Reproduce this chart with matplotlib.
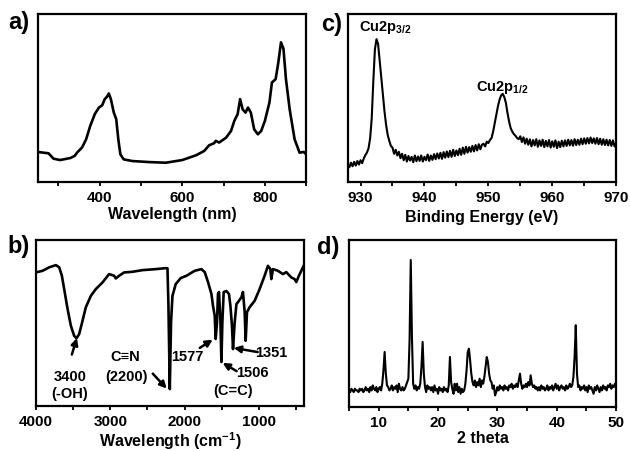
import numpy as np
import matplotlib
matplotlib.use('Agg')
import matplotlib.pyplot as plt

plt.rcParams['font.family'] = ['Liberation Sans', 'DejaVu Sans']
plt.rcParams['font.weight'] = 'bold'
plt.rcParams['mathtext.fontset'] = 'custom'
plt.rcParams['mathtext.rm'] = 'Liberation Sans:bold'
plt.rcParams['mathtext.bf'] = 'Liberation Sans:bold'
plt.rcParams['mathtext.default'] = 'bf'

# a) UV-vis-NIR absorption
uv_nm = [250, 276, 282, 288, 304, 329, 339, 345, 357, 367, 377, 388, 398, 406, 412,
         418, 422, 427, 434, 440, 445, 450, 458, 479, 519, 560, 600, 633, 653, 665,
         677, 681, 689, 706, 718, 726, 734, 740, 746, 753, 759, 766, 774, 783, 791,
         800, 811, 817, 826, 832, 839, 845, 851, 860, 872, 884, 894, 900]
uv_abs = [0.179, 0.171, 0.155, 0.139, 0.131, 0.143, 0.155, 0.175, 0.205, 0.254, 0.334,
          0.404, 0.443, 0.457, 0.493, 0.509, 0.527, 0.493, 0.414, 0.374, 0.254, 0.165,
          0.135, 0.125, 0.119, 0.115, 0.131, 0.159, 0.185, 0.219, 0.231, 0.245, 0.235,
          0.264, 0.304, 0.364, 0.404, 0.493, 0.433, 0.413, 0.443, 0.413, 0.314, 0.284,
          0.304, 0.364, 0.473, 0.592, 0.612, 0.702, 0.831, 0.793, 0.612, 0.433, 0.254,
          0.175, 0.179, 0.165]

# b) FTIR
ir_wn = [4000, 3910, 3821, 3731, 3687, 3651, 3620, 3574, 3530, 3486, 3454, 3418, 3373,
         3329, 3261, 3194, 3104, 3016, 2948, 2926, 2881, 2814, 2701, 2567, 2388, 2254,
         2231, 2218, 2200, 2183, 2164, 2120, 2053, 1976, 1865, 1775, 1730, 1686, 1640,
         1619, 1596, 1583, 1565, 1552, 1538, 1519, 1506, 1493, 1475, 1439, 1404, 1385,
         1364, 1350, 1327, 1304, 1270, 1237, 1216, 1193, 1180, 1162, 1126, 1059, 992,
         925, 880, 848, 835, 813, 746, 679, 634, 566, 522, 499, 464, 432, 400]
ir_t = [80.5, 81.5, 83.6, 84.9, 83.6, 78.5, 70.5, 58.4, 48.4, 42.3, 40.8, 43.4, 51.4,
        59.5, 66.4, 70.5, 74.5, 79.5, 78.5, 76.9, 78.5, 80.5, 80.9, 81.9, 82.5, 83.1,
        83.0, 60.4, 10.2, 50.6, 66.4, 73.5, 77.1, 78.5, 81.5, 82.5, 80.7, 74.7, 67.5,
        60.4, 54.4, 40.4, 50.6, 67.5, 68.7, 50.6, 26.5, 50.6, 68.7, 69.3, 67.5, 60.4,
        48.4, 34.3, 50.6, 61.4, 63.4, 65.5, 68.7, 56.6, 39.3, 56.6, 59.6, 63.4, 70.5,
        78.5, 84.5, 82.5, 76.5, 82.5, 81.5, 79.5, 80.7, 77.5, 76.5, 74.7, 78.5, 81.5, 84.5]

# c) XPS Cu 2p, 928-970 eV
xps_int = [0.108, 0.088, 0.115, 0.094, 0.120, 0.098, 0.125, 0.104, 0.130, 0.112,
           0.140, 0.160, 0.175, 0.200, 0.260, 0.380, 0.600, 0.790, 0.850, 0.820,
           0.720, 0.620, 0.520, 0.420, 0.340, 0.280, 0.245, 0.215, 0.205, 0.168,
           0.192, 0.158, 0.180, 0.142, 0.168, 0.130, 0.162, 0.122, 0.155, 0.128,
           0.150, 0.118, 0.158, 0.124, 0.152, 0.126, 0.158, 0.122, 0.150, 0.130,
           0.164, 0.126, 0.158, 0.132, 0.166, 0.136, 0.170, 0.140, 0.174, 0.138,
           0.178, 0.145, 0.182, 0.148, 0.186, 0.150, 0.192, 0.155, 0.188, 0.160,
           0.198, 0.162, 0.205, 0.168, 0.210, 0.175, 0.208, 0.180, 0.215, 0.182,
           0.220, 0.188, 0.225, 0.195, 0.222, 0.228, 0.212, 0.240, 0.232, 0.250,
           0.262, 0.300, 0.350, 0.400, 0.450, 0.490, 0.515, 0.525, 0.505, 0.470,
           0.410, 0.360, 0.320, 0.300, 0.285, 0.275, 0.262, 0.255, 0.272, 0.238,
           0.266, 0.228, 0.258, 0.222, 0.254, 0.212, 0.250, 0.218, 0.255, 0.210,
           0.248, 0.215, 0.252, 0.208, 0.245, 0.212, 0.250, 0.205, 0.242, 0.210,
           0.248, 0.202, 0.240, 0.208, 0.246, 0.212, 0.248, 0.215, 0.252, 0.218,
           0.250, 0.216, 0.255, 0.220, 0.252, 0.222, 0.258, 0.225, 0.260, 0.228,
           0.262, 0.230, 0.265, 0.232, 0.260, 0.228, 0.262, 0.225, 0.258, 0.222,
           0.255, 0.220, 0.252, 0.218, 0.250, 0.215, 0.248, 0.212, 0.232]
xps_ev = np.linspace(928, 970, len(xps_int))

# d) XRD, 5-50 deg in 0.2 steps
xrd_int = [0.10, 0.09, 0.11, 0.10, 0.09, 0.11, 0.10, 0.10, 0.09, 0.11,
           0.10, 0.11, 0.09, 0.10, 0.12, 0.10, 0.11, 0.09, 0.12, 0.10,
           0.13, 0.11, 0.10, 0.12, 0.09, 0.11, 0.12, 0.10, 0.14, 0.22,
           0.33, 0.20, 0.13, 0.12, 0.10, 0.11, 0.13, 0.10, 0.12, 0.11,
           0.13, 0.09, 0.14, 0.11, 0.10, 0.12, 0.10, 0.11, 0.13, 0.15,
           0.17, 0.40, 0.88, 0.42, 0.14, 0.11, 0.13, 0.10, 0.12, 0.11,
           0.14, 0.24, 0.39, 0.20, 0.12, 0.09, 0.13, 0.11, 0.12, 0.10,
           0.12, 0.09, 0.13, 0.10, 0.11, 0.08, 0.12, 0.10, 0.11, 0.09,
           0.12, 0.10, 0.11, 0.09, 0.13, 0.30, 0.15, 0.11, 0.08, 0.14,
           0.10, 0.14, 0.09, 0.12, 0.08, 0.11, 0.09, 0.10, 0.14, 0.22,
           0.33, 0.35, 0.28, 0.20, 0.15, 0.13, 0.16, 0.12, 0.15, 0.13,
           0.17, 0.12, 0.16, 0.14, 0.18, 0.24, 0.30, 0.27, 0.20, 0.16,
           0.15, 0.11, 0.13, 0.07, 0.09, 0.12, 0.10, 0.13, 0.11, 0.12,
           0.10, 0.13, 0.11, 0.12, 0.10, 0.13, 0.12, 0.14, 0.11, 0.13,
           0.12, 0.14, 0.12, 0.16, 0.20, 0.14, 0.11, 0.13, 0.12, 0.14,
           0.12, 0.15, 0.13, 0.19, 0.14, 0.12, 0.13, 0.11, 0.12, 0.10,
           0.12, 0.10, 0.13, 0.11, 0.12, 0.10, 0.11, 0.13, 0.10, 0.12,
           0.11, 0.13, 0.10, 0.12, 0.14, 0.11, 0.13, 0.10, 0.12, 0.13,
           0.11, 0.12, 0.10, 0.13, 0.11, 0.12, 0.14, 0.12, 0.13, 0.18,
           0.30, 0.49, 0.20, 0.12, 0.13, 0.10, 0.12, 0.11, 0.13, 0.10,
           0.12, 0.09, 0.13, 0.11, 0.12, 0.10, 0.08, 0.12, 0.10, 0.13,
           0.11, 0.09, 0.12, 0.10, 0.13, 0.11, 0.12, 0.10, 0.13, 0.12,
           0.14, 0.11, 0.13, 0.12, 0.14, 0.13]
xrd_2t = np.linspace(5, 50, len(xrd_int))


def style(ax, major, minor, xlim, ylim):
    ax.set_xlim(*xlim)
    ax.set_ylim(*ylim)
    ax.set_xticks(major)
    ax.set_xticks(minor, minor=True)
    ax.set_yticks([])
    ax.tick_params(axis='x', which='both', direction='out', length=3, width=1.3,
                   labelsize=11, pad=3)
    for s in ax.spines.values():
        s.set_linewidth(1.6)
    for lab in ax.get_xticklabels():
        lab.set_fontweight('bold')


fig = plt.figure(figsize=(6.3, 4.52), dpi=100)

ax_a = fig.add_axes([0.060, 0.595, 0.426, 0.372])
ax_a.plot(uv_nm, uv_abs, color='k', lw=1.9)
style(ax_a, [400, 600, 800], [300, 500, 700, 900], (250, 900), (0, 1))
ax_a.set_xlabel('Wavelength (nm)', fontsize=11.5, fontweight='bold', labelpad=1)

ax_c = fig.add_axes([0.552, 0.595, 0.426, 0.372])
ax_c.plot(xps_ev, xps_int, color='k', lw=1.5)
style(ax_c, [930, 940, 950, 960, 970], [935, 945, 955, 965], (928, 970), (0, 1))
ax_c.set_xlabel('Binding Energy (eV)', fontsize=11.5, fontweight='bold', labelpad=3)
ax_c.text(933.8, 0.925, r'Cu2p$_{3/2}$', ha='center', va='center', fontsize=10.5)
ax_c.text(952.2, 0.57, r'Cu2p$_{1/2}$', ha='center', va='center', fontsize=10.5)

ax_b = fig.add_axes([0.057, 0.0996, 0.425, 0.367])
ax_b.plot(ir_wn, ir_t, color='k', lw=1.9)
style(ax_b, [4000, 3000, 2000, 1000], [3500, 2500, 1500, 500], (4000, 400), (0, 100))
ax_b.set_xlabel(r'Wavelength (cm$^{-1}$)', fontsize=11.5, fontweight='bold', labelpad=0.5)

arrow = dict(arrowstyle='-|>', color='k', lw=1.8, mutation_scale=10,
             shrinkA=0, shrinkB=0)
ax_b.text(3543, 18, '3400', ha='center', va='center', fontsize=10.5)
ax_b.text(3543, 8, '(-OH)', ha='center', va='center', fontsize=10.5)
ax_b.annotate('', xy=(3449, 41), xytext=(3517, 31), arrowprops=arrow)
ax_b.text(2805, 30, 'C\u2261N', ha='center', va='center', fontsize=10.5)
ax_b.text(2778, 18, '(2200)', ha='center', va='center', fontsize=10.5)
ax_b.annotate('', xy=(2241, 10.5), xytext=(2429, 19.5), arrowprops=arrow)
ax_b.text(1959, 30, '1577', ha='center', va='center', fontsize=10.5)
ax_b.annotate('', xy=(1623, 40), xytext=(1797, 35), arrowprops=arrow)
ax_b.text(830, 32.5, '1351', ha='center', va='center', fontsize=10.5)
ax_b.annotate('', xy=(1340, 35), xytext=(1018, 32.5), arrowprops=arrow)
ax_b.text(1086, 20.5, '1506', ha='center', va='center', fontsize=10.5)
ax_b.annotate('', xy=(1489, 26), xytext=(1301, 21), arrowprops=arrow)
ax_b.text(1354, 9.5, '(C=C)', ha='center', va='center', fontsize=10.5)

ax_d = fig.add_axes([0.554, 0.097, 0.424, 0.370])
ax_d.plot(xrd_2t, xrd_int, color='k', lw=1.5)
style(ax_d, [10, 20, 30, 40, 50], [5, 15, 25, 35, 45], (5, 50), (0, 1))
ax_d.set_xlabel('2 theta', fontsize=11.5, fontweight='bold', labelpad=0.5)

for lab, x, y in [('a)', 0.030, 0.95), ('c)', 0.527, 0.945),
                  ('b)', 0.030, 0.455), ('d)', 0.521, 0.452)]:
    fig.text(x, y, lab, ha='center', va='center', fontsize=17, fontweight='bold')

fig.savefig('out.png', dpi=100)
